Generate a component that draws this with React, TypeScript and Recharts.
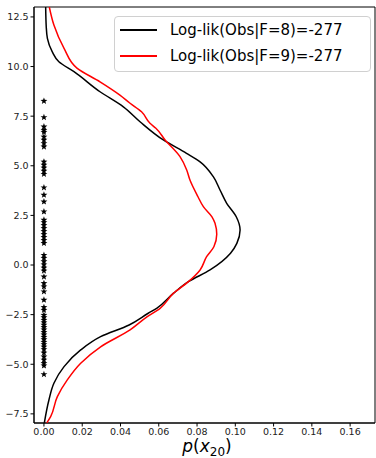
import React from "react";
import {
  ScatterChart,
  Scatter,
  XAxis,
  YAxis,
  ReferenceArea,
} from "recharts";

// Density of x20 for two factor counts, drawn sideways (value on y, density on x).

const Y_BLACK = [13.0, 12.0, 11.42, 10.75, 10.24, 9.74, 8.73, 7.97, 7.22, 6.3, 5.63, 5.2, 4.45, 3.78, 3.11, 2.43, 1.76, 1.09, 0.59, -0.25, -0.84, -1.43, -2.18, -2.43, -3.02, -3.61, -4.28, -5.12, -5.96, -6.8, -7.95];
const P_BLACK = [0.0009, 0.0012, 0.0018, 0.0043, 0.0078, 0.0157, 0.0293, 0.0415, 0.0502, 0.0624, 0.0745, 0.0816, 0.0885, 0.092, 0.0955, 0.1005, 0.1025, 0.1008, 0.0975, 0.0868, 0.0755, 0.0676, 0.0589, 0.0545, 0.0445, 0.0296, 0.0192, 0.0105, 0.0052, 0.0026, 0.0002];

const Y_RED = [13.0, 12.09, 10.92, 9.91, 9.23, 8.56, 8.15, 7.72, 7.14, 6.89, 6.3, 5.46, 4.79, 4.28, 3.44, 2.94, 2.43, 2.1, 1.55, 0.92, 0.42, -0.25, -0.84, -1.43, -2.18, -2.6, -3.27, -4.12, -4.95, -5.79, -6.63, -7.64, -7.95];
const P_RED = [0.0028, 0.0052, 0.0105, 0.0174, 0.0293, 0.0397, 0.045, 0.051, 0.0554, 0.0585, 0.0633, 0.0711, 0.0746, 0.0763, 0.0805, 0.0833, 0.0878, 0.0894, 0.0903, 0.0888, 0.085, 0.0816, 0.0755, 0.0676, 0.0607, 0.054, 0.045, 0.0296, 0.0192, 0.0122, 0.007, 0.0035, 0.0015];

// observed values, plotted at p = 0
const OBS = [8.26, 7.44, 6.97, 6.8, 6.7, 6.46, 6.3, 6.13, 5.96, 5.2, 5.04, 4.9, 4.74, 4.58, 3.9, 3.53, 3.19, 2.69, 2.27, 2.15, 2.0, 1.85, 1.7, 1.55, 1.4, 1.25, 1.1, 0.5, 0.35, 0.18, 0.02, -0.14, -0.29, -0.59, -0.92, -1.09, -1.34, -1.76, -2.13, -2.27, -2.52, -2.64, -2.77, -2.9, -3.02, -3.14, -3.26, -3.39, -3.51, -3.63, -3.75, -3.88, -4.0, -4.12, -4.25, -4.42, -4.62, -4.78, -4.95, -5.07, -5.51];

const X_TICKS = [0, 0.02, 0.04, 0.06, 0.08, 0.1, 0.12, 0.14, 0.16];
const Y_TICKS = [-7.5, -5, -2.5, 0, 2.5, 5, 7.5, 10, 12.5];

const X_DOMAIN: [number, number] = [-0.0052, 0.173];
const Y_DOMAIN: [number, number] = [-7.96, 13.0];

const SERIES = [
  { name: "Log-lik(Obs|F=8)=-277", color: "#000000", ys: Y_BLACK, ps: P_BLACK },
  { name: "Log-lik(Obs|F=9)=-277", color: "#ff0000", ys: Y_RED, ps: P_RED },
];

const FONT = "'DejaVu Sans', sans-serif";
const tickStyle = { fill: "#222", fontSize: 9.5, fontFamily: FONT };

const fmtNeg = (s: string) => s.replace("-", "\u2212");

function Star(props: any) {
  const { cx, cy } = props;
  if (cx == null || cy == null) return <g />;
  const outer = 3.6;
  const inner = 1.5;
  let d = "";
  for (let k = 0; k < 10; k++) {
    const r = k % 2 === 0 ? outer : inner;
    const a = -Math.PI / 2 + (k * Math.PI) / 5;
    d += (k === 0 ? "M" : "L") + (cx + r * Math.cos(a)).toFixed(2) + "," + (cy + r * Math.sin(a)).toFixed(2);
  }
  return <path d={d + "Z"} fill="#000" />;
}

export default function App() {
  const curves = SERIES.map((s) => ({
    ...s,
    data: s.ys.map((y, i) => ({ x: s.ps[i], y })),
  }));
  const obs = OBS.map((y) => ({ x: 0, y }));

  return (
    <div style={{ position: "absolute", left: 0, top: 0, width: 376, height: 458, background: "#fff" }}>
      <ScatterChart width={376} height={458} margin={{ top: 7, right: 1, bottom: 0, left: 0 }}>
        <XAxis
          type="number"
          dataKey="x"
          domain={X_DOMAIN}
          ticks={X_TICKS}
          allowDataOverflow
          height={35}
          tick={tickStyle}
          tickFormatter={(v: number) => v.toFixed(2)}
          tickSize={3.5}
          tickMargin={2}
          stroke="#000"
        />
        <YAxis
          type="number"
          dataKey="y"
          domain={Y_DOMAIN}
          ticks={Y_TICKS}
          allowDataOverflow
          width={34}
          tick={tickStyle}
          tickFormatter={(v: number) => fmtNeg(v.toFixed(1))}
          tickSize={3.5}
          tickMargin={2}
          stroke="#000"
        />
        <ReferenceArea
          x1={X_DOMAIN[0]}
          x2={X_DOMAIN[1]}
          y1={Y_DOMAIN[0]}
          y2={Y_DOMAIN[1]}
          fill="none"
          stroke="#000"
          strokeWidth={1}
          ifOverflow="visible"
        />
        {curves.map((c) => (
          <Scatter
            key={c.name}
            data={c.data}
            line={{ stroke: c.color, strokeWidth: 1.5 }}
            lineJointType="monotoneY"
            shape={() => <g />}
            isAnimationActive={false}
          />
        ))}
        <Scatter data={obs} shape={<Star />} isAnimationActive={false} />
      </ScatterChart>

      {/* legend */}
      <div
        style={{
          position: "absolute",
          left: 114,
          top: 16,
          width: 255,
          height: 54,
          border: "1px solid #d0d0d0",
          borderRadius: 4,
          background: "rgba(255,255,255,0.8)",
          fontFamily: FONT,
          fontSize: 15,
          color: "#000",
        }}
      >
        {SERIES.map((s, i) => (
          <div
            key={s.name}
            style={{ position: "absolute", left: 5, top: 4 + i * 26, height: 18, display: "flex", alignItems: "center" }}
          >
            <span style={{ display: "inline-block", width: 37, height: 1.2, background: s.color }} />
            <span style={{ marginLeft: 13, whiteSpace: "nowrap" }}>{s.name}</span>
          </div>
        ))}
      </div>

      {/* x label */}
      <div
        style={{
          position: "absolute",
          left: 0,
          width: 414,
          top: 437,
          textAlign: "center",
          fontFamily: FONT,
          fontSize: 17,
          color: "#000",
          lineHeight: "18px",
        }}
      >
        <i>p</i>(<i>x</i>
        <span style={{ fontSize: 12, position: "relative", top: 4 }}>20</span>)
      </div>
    </div>
  );
}
